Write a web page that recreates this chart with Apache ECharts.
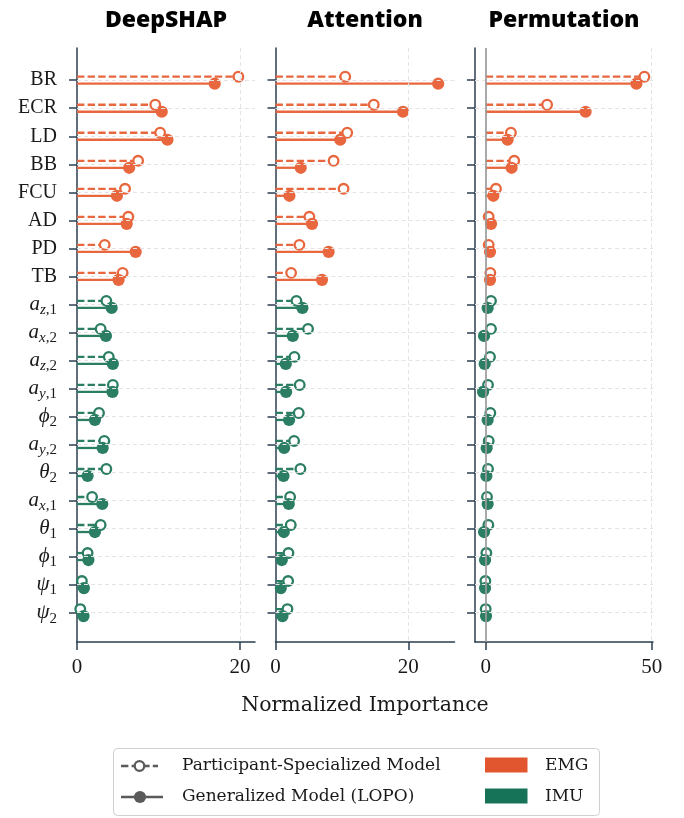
<!DOCTYPE html>
<html>
<head>
<meta charset="utf-8">
<script src="https://cdn.jsdelivr.net/npm/echarts@6/dist/echarts.min.js"></script>
<style>
  html, body { margin: 0; padding: 0; background: #ffffff; }
  #chart { width: 684px; height: 818px; }
</style>
</head>
<body>
<div id="chart"></div>
<script>
// Features, top to bottom (TeX-like notation, turned into rich text below)
const features = ['BR', 'ECR', 'LD', 'BB', 'FCU', 'AD', 'PD', 'TB',
  'a_{z,1}', 'a_{x,2}', 'a_{z,2}', 'a_{y,1}', '\\phi_2', 'a_{y,2}', '\\theta_2',
  'a_{x,1}', '\\theta_1', '\\phi_1', '\\psi_1', '\\psi_2'];
const featureGroup = ['EMG', 'EMG', 'EMG', 'EMG', 'EMG', 'EMG', 'EMG', 'EMG',
  'IMU', 'IMU', 'IMU', 'IMU', 'IMU', 'IMU', 'IMU', 'IMU', 'IMU', 'IMU', 'IMU', 'IMU'];
const methods = ['DeepSHAP', 'Attention', 'Permutation'];

// Normalized importance per feature
const deepshapParticipant = [19.8, 9.6, 10.2, 7.5, 5.9, 6.3, 3.4, 5.6, 3.6, 2.9, 3.9, 4.4, 2.7, 3.35, 3.6, 1.85, 2.9, 1.3, 0.6, 0.4];
const deepshapGeneralized = [16.9, 10.4, 11.1, 6.4, 4.9, 6.1, 7.2, 5.1, 4.25, 3.55, 4.4, 4.35, 2.2, 3.15, 1.3, 3.1, 2.2, 1.4, 0.85, 0.8];
const attentionParticipant = [10.5, 14.8, 10.8, 8.75, 10.25, 5.1, 3.6, 2.35, 3.15, 4.9, 2.85, 3.65, 3.5, 2.8, 3.75, 2.2, 2.3, 1.95, 1.9, 1.8];
const attentionGeneralized = [24.5, 19.2, 9.75, 3.8, 2.1, 5.5, 8.0, 7.0, 4.05, 2.6, 1.55, 1.6, 2.05, 1.3, 1.2, 2.0, 1.25, 0.95, 0.8, 1.05];
const permutationParticipant = [47.8, 18.5, 7.6, 8.6, 3.1, 0.9, 0.9, 1.4, 1.6, 1.6, 1.3, 0.7, 1.4, 0.9, 0.7, 0.4, 0.8, 0.2, -0.1, 0.0];
const permutationGeneralized = [45.4, 30.1, 6.6, 7.8, 2.3, 1.6, 1.3, 1.3, 0.6, -0.5, -0.3, -0.8, 0.6, 0.3, 0.2, 0.6, -0.5, -0.2, -0.2, 0.1];

// Tick values along each x axis
const xTicks = [[0, 20], [0, 20], [0, 50]];
const xLimits = [[0, 21.84], [0, 26.96], [-3.22, 50.4]];

const models = ['Participant-Specialized Model', 'Generalized Model (LOPO)'];
const groupNames = ['EMG', 'IMU'];

const EMG_COLOR = '#e2562f';
const IMU_COLOR = '#177357';
const EMG_MARK = '#e8673f';
const IMU_MARK = '#2b7e63';
const AXIS_COLOR = '#2c3e50';
const SERIF = '"Liberation Serif", "Times New Roman", serif';
const SERIF_WIDE = '"DejaVu Serif", serif';
const SANS_BOLD = '"Open Sans", "Noto Sans", sans-serif';

const panelValues = [
  [deepshapParticipant, deepshapGeneralized],
  [attentionParticipant, attentionGeneralized],
  [permutationParticipant, permutationGeneralized]
];

// Panel frames
const grids = [
  { left: 77, top: 48, width: 178, height: 594 },
  { left: 275.5, top: 48, width: 179, height: 594 },
  { left: 475, top: 48, width: 178, height: 594 }
];

// TeX-ish label -> ECharts rich text
const greek = { '\\phi': '\u03d5', '\\theta': '\u03b8', '\\psi': '\u03c8' };
function richLabel(tex) {
  const m = tex.match(/^(\\?[A-Za-z]+)_\{?([^}]*)\}?$/);
  if (!m) return '{rm|' + tex + '}';
  const base = greek[m[1]] || m[1];
  let out = '{it|' + base + '}';
  for (const ch of m[2]) {
    out += /[a-z]/.test(ch) ? '{subit|' + ch + '}' : '{sub|' + ch + '}';
  }
  return out;
}

const rowIdx = features.map((_, i) => i);

const xAxes = grids.map((g, i) => ({
  gridIndex: i,
  type: 'value',
  min: xLimits[i][0],
  max: xLimits[i][1],
  axisLine: { show: true, onZero: false, lineStyle: { color: AXIS_COLOR, width: 1.5 } },
  axisTick: { show: true, length: 8, customValues: xTicks[i], lineStyle: { color: AXIS_COLOR, width: 1.5 } },
  axisLabel: { customValues: xTicks[i], fontFamily: SERIF, fontSize: 21, color: '#1a1a1a', margin: 15 },
  splitLine: { show: false }
}));

const yAxes = grids.map((g, i) => ({
  gridIndex: i,
  type: 'value',
  inverse: true,
  min: -1.15,
  max: 20.05,
  axisLine: { show: true, onZero: false, lineStyle: { color: AXIS_COLOR, width: 1.5 } },
  axisTick: { show: true, length: 8, customValues: rowIdx, lineStyle: { color: AXIS_COLOR, width: 1.5 } },
  axisLabel: {
    show: i === 0,
    customValues: rowIdx,
    margin: 20,
    formatter: v => richLabel(features[Math.round(v)]),
    rich: {
      rm: { fontFamily: SERIF, fontSize: 20, color: '#1a1a1a' },
      it: { fontFamily: SERIF, fontStyle: 'italic', fontSize: 21, color: '#1a1a1a' },
      subit: { fontFamily: SERIF, fontStyle: 'italic', fontSize: 15, color: '#1a1a1a', padding: [12, 0, 0, 0] },
      sub: { fontFamily: SERIF, fontSize: 15, color: '#1a1a1a', padding: [12, 0, 0, 0] }
    }
  },
  splitLine: { show: false }
}));

// Stem (line from zero to the value) with a marker at the tip
function stemRenderer(kind) {
  const participant = kind === 0;
  return function (params, api) {
    const v = api.value(0);
    const row = api.value(1);
    const g = api.value(2);
    const off = participant ? -0.125 : 0.125;
    const p0 = api.coord([0, row + off]);
    const p1 = api.coord([v, row + off]);
    const color = g === 0 ? EMG_MARK : IMU_MARK;
    return {
      type: 'group',
      children: [
        {
          type: 'line',
          shape: { x1: p0[0], y1: p0[1], x2: p1[0], y2: p1[1] },
          style: { stroke: color, lineWidth: 2.3, lineDash: participant ? [7.4, 3.2] : null }
        },
        {
          type: 'circle',
          shape: { cx: p1[0], cy: p1[1], r: participant ? 4.8 : 6.1 },
          style: participant ? { fill: '#ffffff', stroke: color, lineWidth: 2.3 } : { fill: color }
        }
      ]
    };
  };
}

const series = [];
grids.forEach((g, i) => {
  // dashed reference grid
  const gridLines = rowIdx.map(r => ({ yAxis: r }));
  gridLines.push({ xAxis: xTicks[i][1] });
  series.push({
    type: 'scatter',
    xAxisIndex: i,
    yAxisIndex: i,
    data: [],
    silent: true,
    z: 1,
    markLine: {
      silent: true,
      symbol: 'none',
      label: { show: false },
      animation: false,
      lineStyle: { color: '#e4e4e4', type: [4, 3], width: 1 },
      data: gridLines
    }
  });
  if (i === 2) {
    series.push({
      type: 'scatter',
      xAxisIndex: i,
      yAxisIndex: i,
      data: [],
      silent: true,
      z: 2,
      markLine: {
        silent: true,
        symbol: 'none',
        label: { show: false },
        animation: false,
        lineStyle: { color: '#9a9a9a', type: 'solid', width: 2, opacity: 0.85 },
        data: [{ xAxis: 0 }]
      }
    });
  }
  [0, 1].forEach(kind => {
    series.push({
      type: 'custom',
      name: models[kind],
      xAxisIndex: i,
      yAxisIndex: i,
      z: 3 + kind,
      animation: false,
      renderItem: stemRenderer(kind),
      encode: { x: 0, y: 1 },
      data: panelValues[i][kind].map((v, r) => [v, r, groupNames.indexOf(featureGroup[r])])
    });
  });
});

// Panel titles, shared axis title and the legend box
const graphics = [];
grids.forEach((g, i) => {
  graphics.push({
    type: 'text',
    x: g.left + g.width / 2,
    y: 20,
    style: {
      text: methods[i], x: 0, y: 0, align: 'center', verticalAlign: 'middle',
      fontFamily: SANS_BOLD, fontWeight: 800, fontSize: 23, fill: '#000000'
    }
  });
});
graphics.push({
  type: 'text', x: 365, y: 706,
  style: { text: 'Normalized Importance', align: 'center', verticalAlign: 'middle',
    fontFamily: SERIF_WIDE, fontSize: 20.5, fill: '#1a1a1a' }
});

const legendChildren = [
  { type: 'rect', shape: { x: 113.5, y: 748.5, width: 486, height: 67, r: 4 },
    style: { fill: '#ffffff', stroke: '#cfcfcf', lineWidth: 1 } },
  // participant-specialized: dashed line + open circle
  { type: 'line', shape: { x1: 121, y1: 766, x2: 158, y2: 766 },
    style: { stroke: '#5a5a5a', lineWidth: 2.3, lineDash: [7.4, 3.2] } },
  { type: 'circle', shape: { cx: 139.5, cy: 766, r: 4.8 },
    style: { fill: '#ffffff', stroke: '#5a5a5a', lineWidth: 2.3 } },
  // generalized: solid line + filled circle
  { type: 'line', shape: { x1: 121, y1: 797, x2: 163, y2: 797 },
    style: { stroke: '#5a5a5a', lineWidth: 2.3 } },
  { type: 'circle', shape: { cx: 140, cy: 797, r: 6.1 },
    style: { fill: '#5a5a5a' } },
  { type: 'rect', shape: { x: 485, y: 757.5, width: 42.5, height: 15 }, style: { fill: EMG_COLOR } },
  { type: 'rect', shape: { x: 485, y: 788.5, width: 42.5, height: 15 }, style: { fill: IMU_COLOR } }
];
const legendTexts = [
  [models[0], 182, 766], [models[1], 182, 797], [groupNames[0], 545, 766], [groupNames[1], 545, 797]
];
legendTexts.forEach(t => {
  legendChildren.push({
    type: 'text', x: t[1], y: t[2],
    style: { text: t[0], align: 'left', verticalAlign: 'middle',
      fontFamily: SERIF_WIDE, fontSize: 17, fill: '#1a1a1a' }
  });
});
graphics.push({ type: 'group', children: legendChildren });

const chart = echarts.init(document.getElementById('chart'), null, { renderer: 'canvas' });
chart.setOption({
  backgroundColor: '#ffffff',
  animation: false,
  grid: grids,
  xAxis: xAxes,
  yAxis: yAxes,
  series: series,
  graphic: graphics
});
</script>
</body>
</html>
